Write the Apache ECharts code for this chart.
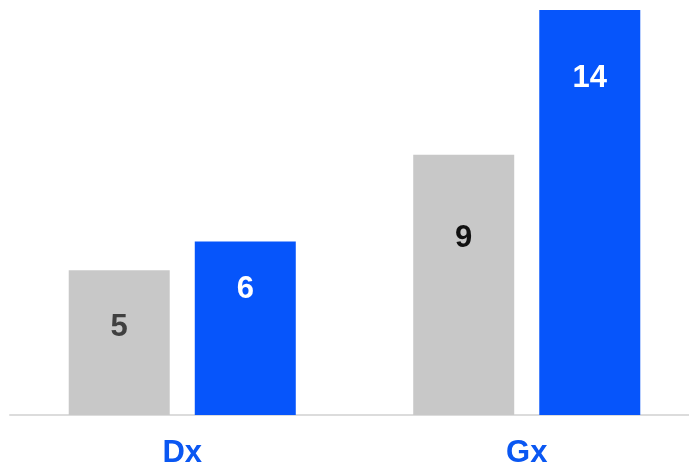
<!DOCTYPE html>
<html>
<head>
<meta charset="utf-8">
<script src="https://cdn.jsdelivr.net/npm/echarts@6/dist/echarts.min.js"></script>
<style>
  html, body { margin: 0; padding: 0; background: #fff; overflow: hidden; }
  #chart { width: 700px; height: 471px; }
</style>
</head>
<body>
<div id="chart"></div>
<script>
// Categories and the two compared series
const categories = ['Dx', 'Gx'];
const seriesA = [5, 9];
const seriesB = [6, 14];

// Distance of each value label below its bar top (styling only)
const labelDistA = [42, 68];
const labelDistB = [33, 53];

const chart = echarts.init(document.getElementById('chart'));

function withLabels(values, dists, color) {
  return values.map((v, i) => ({
    value: v,
    label: { distance: dists[i], color: Array.isArray(color) ? color[i] : color }
  }));
}

chart.setOption({
  animation: false,
  grid: { left: 10, top: 10, bottom: 56, width: 689, containLabel: false },
  xAxis: {
    type: 'category',
    data: categories,
    axisLine: { lineStyle: { color: '#dcdcdc', width: 2 } },
    axisTick: { show: false },
    axisLabel: {
      color: '#0a57f2',
      fontFamily: 'Liberation Sans, Arial, sans-serif',
      fontWeight: 'bold',
      fontSize: 31,
      margin: 23
    }
  },
  yAxis: {
    type: 'value',
    min: 0,
    max: 14,
    show: false,
    splitLine: { show: false }
  },
  series: [
    {
      type: 'bar',
      data: withLabels(seriesA, labelDistA, ['#404040', '#111111']),
      barWidth: 101,
      barGap: '24.8%',
      itemStyle: { color: '#c8c8c8' },
      label: {
        show: true,
        position: 'insideTop',
        fontFamily: 'Liberation Sans, Arial, sans-serif',
        fontWeight: 'bold',
        fontSize: 31
      }
    },
    {
      type: 'bar',
      data: withLabels(seriesB, labelDistB, '#ffffff'),
      barWidth: 101,
      itemStyle: { color: '#0655fb' },
      label: {
        show: true,
        position: 'insideTop',
        fontFamily: 'Liberation Sans, Arial, sans-serif',
        fontWeight: 'bold',
        fontSize: 31
      }
    }
  ]
});
</script>
</body>
</html>
